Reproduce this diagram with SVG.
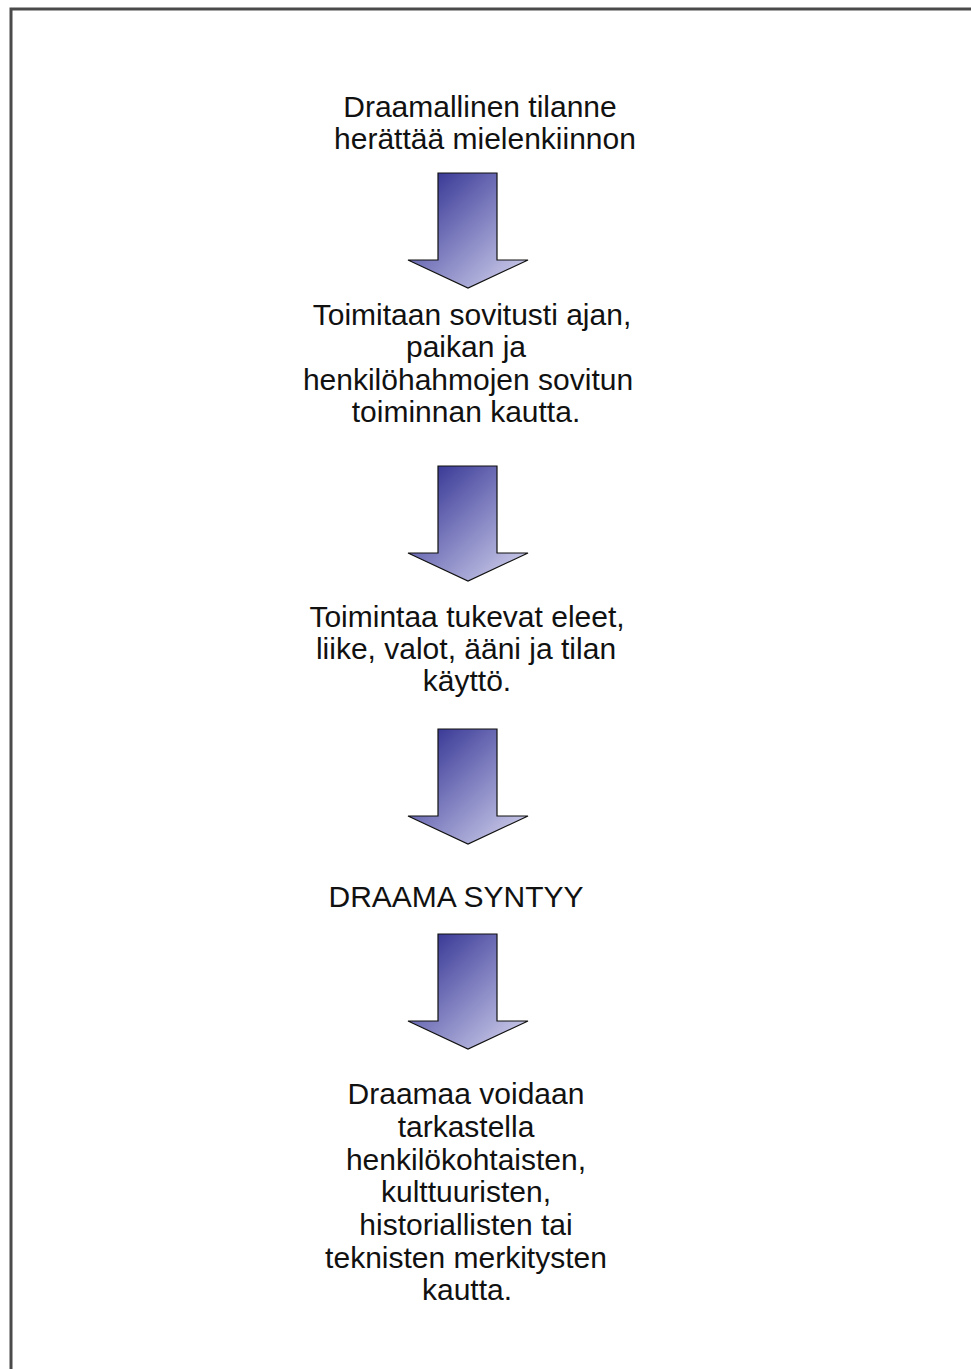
<svg xmlns="http://www.w3.org/2000/svg" width="971" height="1369" viewBox="0 0 971 1369">
<defs>
<linearGradient id="arrowGrad" x1="0" y1="0" x2="1" y2="1">
<stop offset="0" stop-color="#24248a"/>
<stop offset="0.5" stop-color="#7f7fc0"/>
<stop offset="1" stop-color="#d8d8f0"/>
</linearGradient>
<path id="arrowShape" d="M30,0 H89 V87 H120 L60,115 L0,87 H30 Z"/>
</defs>
<style>
.lbl{font-family:"Liberation Sans",Arial,sans-serif;font-size:30px;fill:#111;text-anchor:middle}
.arrow{fill:url(#arrowGrad);stroke:#111;stroke-width:1.2}
</style>
<rect width="971" height="1369" fill="#fff"/>
<path d="M11,1369 V9 H971" fill="none" stroke="#4a4a4a" stroke-width="3"/>
<g id="node1">
<text class="lbl" x="480" y="117">Draamallinen tilanne</text>
<text class="lbl" x="485" y="149">herättää mielenkiinnon</text>
</g>
<g id="node2">
<text class="lbl" x="472" y="325">Toimitaan sovitusti ajan,</text>
<text class="lbl" x="466" y="357">paikan ja</text>
<text class="lbl" x="468" y="390">henkilöhahmojen sovitun</text>
<text class="lbl" x="466" y="422">toiminnan kautta.</text>
</g>
<g id="node3">
<text class="lbl" x="467" y="627">Toimintaa tukevat eleet,</text>
<text class="lbl" x="466" y="659">liike, valot, ääni ja tilan</text>
<text class="lbl" x="467" y="691">käyttö.</text>
</g>
<g id="node4">
<text class="lbl" x="456" y="907">DRAAMA SYNTYY</text>
</g>
<g id="node5">
<text class="lbl" x="466" y="1104">Draamaa voidaan</text>
<text class="lbl" x="466" y="1137">tarkastella</text>
<text class="lbl" x="466" y="1170">henkilökohtaisten,</text>
<text class="lbl" x="466" y="1202">kulttuuristen,</text>
<text class="lbl" x="466" y="1235">historiallisten tai</text>
<text class="lbl" x="466" y="1268">teknisten merkitysten</text>
<text class="lbl" x="467" y="1300">kautta.</text>
</g>
<g id="connectors">
<use href="#arrowShape" class="arrow" transform="translate(408,173)"/>
<use href="#arrowShape" class="arrow" transform="translate(408,466)"/>
<use href="#arrowShape" class="arrow" transform="translate(408,729)"/>
<use href="#arrowShape" class="arrow" transform="translate(408,934)"/>
</g>
</svg>
